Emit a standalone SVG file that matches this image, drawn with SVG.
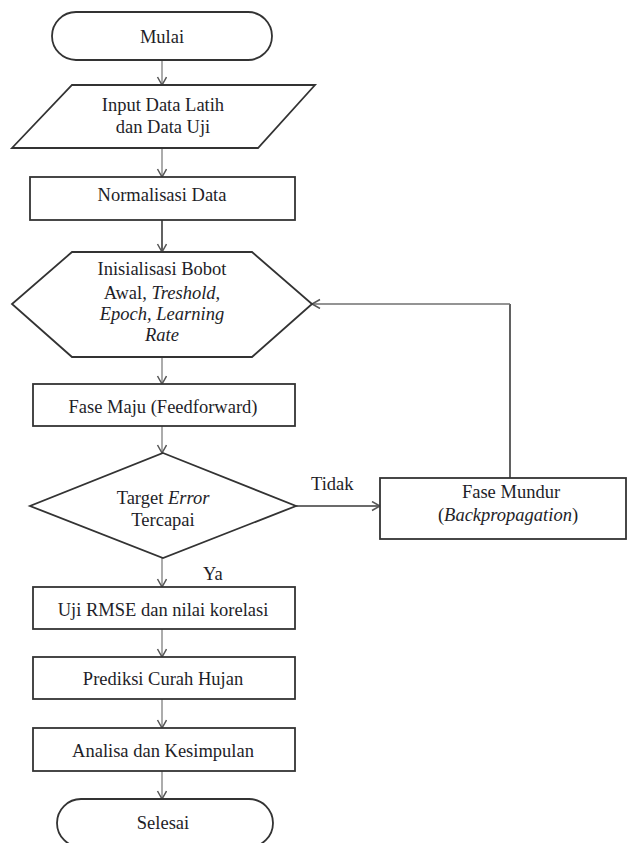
<svg xmlns="http://www.w3.org/2000/svg" width="630" height="843" viewBox="0 0 630 843">
<style>
  .shape { fill: #ffffff; stroke: #333333; stroke-width: 1.8; }
  .lbl { font-family: "Liberation Serif", "Times New Roman", serif; font-size: 18.5px; fill: #1e1e28; text-anchor: middle; }
  .lft { text-anchor: start; }
  .it { font-style: italic; }
  .c { fill: none; stroke: #a3a3a3; stroke-width: 1.8; }
  .cm { fill: none; stroke: #707070; stroke-width: 1.6; }
  .cd { fill: none; stroke: #3a3a3a; stroke-width: 1.6; }
</style>
<defs>
  <marker id="arr" markerWidth="12" markerHeight="12" refX="9" refY="5" orient="auto" markerUnits="userSpaceOnUse">
    <path d="M1,0.5 L9,5 L1,9.5" fill="none" stroke="#555555" stroke-width="1.5"/>
  </marker>
</defs>
<rect width="630" height="843" fill="#ffffff"/>

<g id="connectors">
  <line class="c" x1="162" y1="60" x2="162" y2="85" marker-end="url(#arr)"/>
  <line class="c" x1="162" y1="148" x2="162" y2="177" marker-end="url(#arr)"/>
  <line class="cd" x1="162" y1="220" x2="162" y2="252" marker-end="url(#arr)"/>
  <line class="c" x1="162" y1="357" x2="162" y2="384" marker-end="url(#arr)"/>
  <line class="c" x1="162" y1="426" x2="162" y2="453" marker-end="url(#arr)"/>
  <line class="cd" x1="296" y1="506" x2="380" y2="506" marker-end="url(#arr)"/>
  <line class="cd" x1="510" y1="478" x2="510" y2="304"/>
  <line class="cm" x1="510" y1="304" x2="312" y2="304" marker-end="url(#arr)"/>
  <line class="c" x1="162" y1="558" x2="162" y2="587" marker-end="url(#arr)"/>
  <line class="c" x1="162" y1="629" x2="162" y2="657" marker-end="url(#arr)"/>
  <line class="c" x1="162" y1="699" x2="162" y2="728" marker-end="url(#arr)"/>
  <line class="c" x1="162" y1="771" x2="162" y2="799" marker-end="url(#arr)"/>
  <text class="lbl lft" x="311" y="490">Tidak</text>
  <text class="lbl lft" x="203" y="580">Ya</text>
</g>

<g id="mulai">
  <rect class="shape" x="52" y="12" width="220" height="48" rx="24" ry="24"/>
  <text class="lbl" x="162" y="43">Mulai</text>
</g>

<g id="input">
  <polygon class="shape" points="72,85 315,85 258,148 12,148"/>
  <text class="lbl" x="163" y="111">Input Data Latih</text>
  <text class="lbl" x="163" y="133">dan Data Uji</text>
</g>

<g id="normalisasi">
  <rect class="shape" x="30" y="177" width="265" height="43"/>
  <text class="lbl" x="162" y="201">Normalisasi Data</text>
</g>

<g id="inisialisasi">
  <polygon class="shape" points="72,252 252,252 312,304 252,357 72,357 12,304"/>
  <text class="lbl" x="162" y="275">Inisialisasi Bobot</text>
  <text class="lbl" x="162" y="299">Awal, <tspan class="it">Treshold,</tspan></text>
  <text class="lbl it" x="162" y="320">Epoch, Learning</text>
  <text class="lbl it" x="162" y="341">Rate</text>
</g>

<g id="fasemaju">
  <rect class="shape" x="33" y="384" width="262" height="42"/>
  <text class="lbl" x="163" y="413">Fase Maju (Feedforward)</text>
</g>

<g id="target">
  <polygon class="shape" points="163,453 296,506 163,558 30,506"/>
  <text class="lbl" x="163" y="504">Target <tspan class="it">Error</tspan></text>
  <text class="lbl" x="163" y="526">Tercapai</text>
</g>

<g id="fasemundur">
  <rect class="shape" x="380" y="478" width="246" height="61"/>
  <text class="lbl" x="511" y="498">Fase Mundur</text>
  <text class="lbl" x="508" y="521">(<tspan class="it">Backpropagation</tspan>)</text>
</g>

<g id="uji">
  <rect class="shape" x="33" y="587" width="262" height="42"/>
  <text class="lbl" x="163" y="616">Uji RMSE dan nilai korelasi</text>
</g>

<g id="prediksi">
  <rect class="shape" x="33" y="657" width="262" height="42"/>
  <text class="lbl" x="163" y="685">Prediksi Curah Hujan</text>
</g>

<g id="analisa">
  <rect class="shape" x="33" y="728" width="262" height="43"/>
  <text class="lbl" x="163" y="757">Analisa dan Kesimpulan</text>
</g>

<g id="selesai">
  <rect class="shape" x="57" y="799" width="216" height="48" rx="24" ry="24"/>
  <text class="lbl" x="163" y="829">Selesai</text>
</g>
</svg>
